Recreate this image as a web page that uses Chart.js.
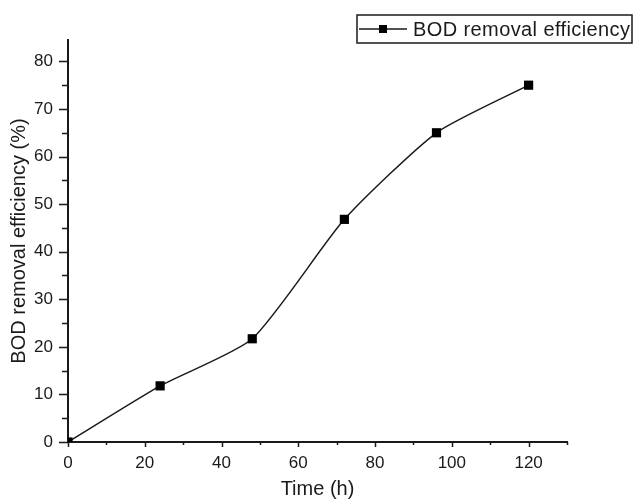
<!DOCTYPE html>
<html>
<head>
<meta charset="utf-8">
<script src="https://cdn.jsdelivr.net/npm/chart.js@4.4.0/dist/chart.umd.min.js"></script>
<style>
  html, body { margin: 0; padding: 0; background: #fff; }
  #wrap { width: 636px; height: 501px; position: relative; }
</style>
</head>
<body>
<div id="wrap"><canvas id="myChart" width="636" height="501"></canvas></div>
<script>
// time points (h) and measured BOD removal (%)
const timeHours = [0, 24, 48, 72, 96, 120];
const bodRemoval = [0, 11.8, 21.7, 46.8, 65, 75];
const seriesName = 'BOD removal efficiency';
const xTitle = 'Time (h)';
const yTitle = 'BOD removal efficiency (%)';

const FONT = "'Liberation Sans', Arial, sans-serif";
const INK = '#1a1a1a';

// small tick marks, major ones longer (Origin style)
const tickMarks = {
  id: 'tickMarks',
  afterDraw(chart) {
    const { ctx, scales: { x, y } } = chart;
    ctx.save();
    ctx.strokeStyle = INK;
    ctx.lineWidth = 1.5;
    x.ticks.forEach(t => {
      if (t.value % 10 !== 0) return;
      const px = Math.round(x.getPixelForValue(t.value)) + 0.5;
      const len = t.value % 20 === 0 ? 5 : 3;
      ctx.beginPath();
      ctx.moveTo(px, x.top);
      ctx.lineTo(px, x.top + len);
      ctx.stroke();
    });
    y.ticks.forEach(t => {
      if (t.value % 5 !== 0) return;
      const py = Math.round(y.getPixelForValue(t.value)) + 0.5;
      const len = t.value % 10 === 0 ? 9 : 6;
      ctx.beginPath();
      ctx.moveTo(y.right - len, py);
      ctx.lineTo(y.right, py);
      ctx.stroke();
    });
    ctx.restore();
  }
};

// boxed legend in the top right corner
const boxLegend = {
  id: 'boxLegend',
  afterDraw(chart) {
    const { ctx } = chart;
    const ds = chart.data.datasets[0];
    const bx = 357, by = 15, bw = 275, bh = 28;
    const midY = by + bh / 2;
    ctx.save();
    ctx.fillStyle = '#fff';
    ctx.fillRect(bx, by, bw, bh);
    ctx.strokeStyle = INK;
    ctx.lineWidth = 1.5;
    ctx.strokeRect(bx, by, bw, bh);
    ctx.beginPath();
    ctx.moveTo(bx + 2, midY);
    ctx.lineTo(bx + 50, midY);
    ctx.stroke();
    ctx.fillStyle = ds.pointBackgroundColor;
    ctx.fillRect(bx + 22, midY - 4, 8, 8);
    ctx.fillStyle = INK;
    ctx.font = '20px ' + FONT;
    ctx.letterSpacing = '0.4px';
    ctx.textBaseline = 'middle';
    ctx.fillText(ds.label, bx + 56, midY + 1);
    ctx.restore();
  }
};

const config = {
  type: 'line',
  data: {
    datasets: [{
      label: seriesName,
      data: timeHours.map((t, i) => ({ x: t, y: bodRemoval[i] })),
      borderColor: INK,
      borderWidth: 1.5,
      tension: 0.2,
      pointStyle: 'rect',
      pointRadius: 6.5,
      pointHoverRadius: 6.5,
      pointBackgroundColor: '#000',
      pointBorderWidth: 0,
      fill: false
    }]
  },
  options: {
    responsive: false,
    animation: false,
    layout: { padding: { top: 40, right: 69, left: 0, bottom: 0 } },
    plugins: {
      legend: { display: false },
      tooltip: { enabled: false }
    },
    scales: {
      x: {
        type: 'linear',
        min: 0,
        max: 130,
        grid: { display: false, drawTicks: false },
        border: { display: true, width: 2, color: INK },
        ticks: {
          stepSize: 10,
          includeBounds: false,
          padding: 11,
          color: INK,
          font: { family: FONT, size: 17 },
          maxRotation: 0,
          autoSkip: false,
          callback: v => (v % 20 === 0 ? v : '')
        },
        title: {
          display: true,
          text: xTitle,
          color: INK,
          font: { family: FONT, size: 20 },
          padding: { top: 0, bottom: 0 }
        },
        afterFit: axis => { axis.height = 59; }
      },
      y: {
        type: 'linear',
        min: 0,
        max: 84.5,
        grid: { display: false, drawTicks: false },
        border: { display: true, width: 2, color: INK },
        ticks: {
          stepSize: 5,
          includeBounds: false,
          padding: 15,
          color: INK,
          font: { family: FONT, size: 17 },
          autoSkip: false,
          callback: v => (v % 10 === 0 ? v : '')
        },
        title: {
          display: true,
          text: yTitle,
          color: INK,
          font: { family: FONT, size: 20 },
          padding: { top: 7, bottom: 0 }
        },
        afterFit: axis => { axis.width = 68; }
      }
    }
  },
  plugins: [tickMarks, boxLegend]
};

const ctx = document.getElementById('myChart').getContext('2d');
new Chart(ctx, config);
</script>
</body>
</html>
